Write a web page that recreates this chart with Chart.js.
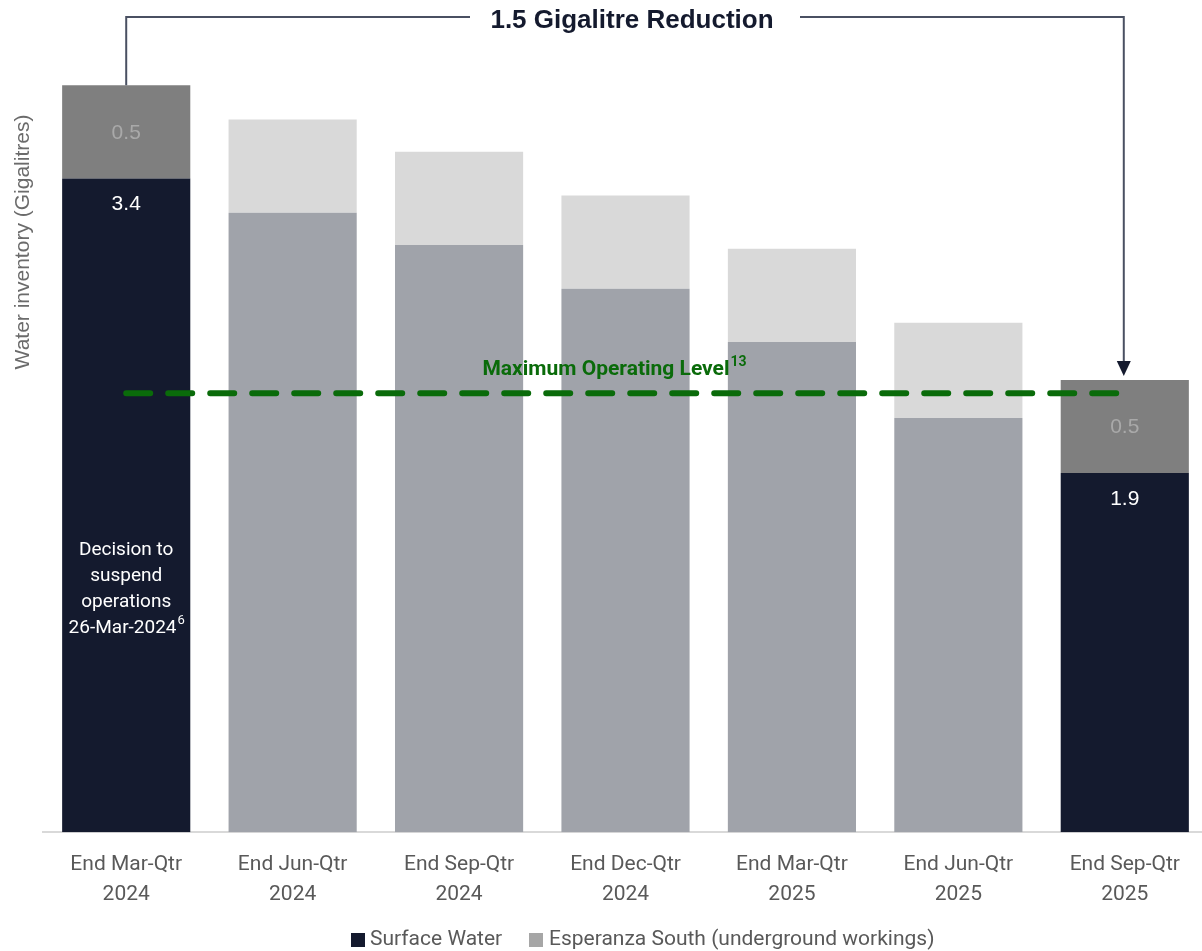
<!DOCTYPE html>
<html>
<head>
<meta charset="utf-8">
<script src="https://cdn.jsdelivr.net/npm/chart.js@4.4.1/dist/chart.umd.min.js"></script>
<style>
  html, body { margin: 0; padding: 0; background: #fff; overflow: hidden; }
  #wrap { width: 1208px; height: 951px; }
</style>
</head>
<body>
<div id="wrap"><canvas id="water"></canvas></div>
<script>
// data (Gigalitres)
const categories = [
  ['End Mar-Qtr', '2024'], ['End Jun-Qtr', '2024'], ['End Sep-Qtr', '2024'],
  ['End Dec-Qtr', '2024'], ['End Mar-Qtr', '2025'], ['End Jun-Qtr', '2025'],
  ['End Sep-Qtr', '2025']
];
const surfaceWater = [3.44, 3.26, 3.09, 2.86, 2.58, 2.18, 1.89];
const esperanzaSouth = [0.49, 0.49, 0.49, 0.49, 0.49, 0.50, 0.49];
const maxOperatingLevel = [2.31, 2.31, 2.31, 2.31, 2.31, 2.31, 2.31];
const labelledBars = [0, 6];

const NAVY = '#141a2e';
const DARK_GREY = '#7f7f7f';
const MID_GREY = '#a0a3aa';
const LIGHT_GREY = '#d9d9d9';
const GREEN = '#0a6b0a';

const surfaceColors = categories.map((c, i) => labelledBars.includes(i) ? NAVY : MID_GREY);
const esperanzaColors = categories.map((c, i) => labelledBars.includes(i) ? DARK_GREY : LIGHT_GREY);

// labels, bracket, legend and axis title
const annotations = {
  id: 'annotations',
  afterDatasetsDraw(chart) {
    const ctx = chart.ctx;
    const y = chart.scales.y;
    const surfMeta = chart.getDatasetMeta(0);
    const espMeta = chart.getDatasetMeta(1);

    ctx.save();
    ctx.textAlign = 'center';
    ctx.textBaseline = 'middle';

    // value labels in first and last bar
    labelledBars.forEach(i => {
      const sBar = surfMeta.data[i];
      const eBar = espMeta.data[i];
      ctx.font = '21px "Liberation Sans", Arial, sans-serif';
      ctx.fillStyle = '#a9a9a9';
      ctx.fillText(esperanzaSouth[i].toFixed(1), eBar.x, (eBar.y + eBar.base) / 2 + 1);
      ctx.fillStyle = '#ffffff';
      ctx.fillText(surfaceWater[i].toFixed(1), sBar.x, sBar.y + 26);
    });

    // note inside first bar
    const b0 = surfMeta.data[0];
    ctx.font = '19px Roboto, sans-serif';
    ctx.fillStyle = '#ffffff';
    ['Decision to', 'suspend', 'operations'].forEach((t, k) => {
      ctx.fillText(t, b0.x, 550 + k * 26);
    });
    const last = '26-Mar-2024';
    const lw = ctx.measureText(last).width;
    ctx.font = '13px Roboto, sans-serif';
    const sw = ctx.measureText('6').width;
    ctx.font = '19px Roboto, sans-serif';
    ctx.textAlign = 'left';
    ctx.fillText(last, b0.x - (lw + sw) / 2, 628);
    ctx.font = '13px Roboto, sans-serif';
    ctx.fillText('6', b0.x - (lw + sw) / 2 + lw + 1, 621);

    // maximum operating level label
    const molY = y.getPixelForValue(maxOperatingLevel[0]);
    ctx.font = 'bold 21px Roboto, sans-serif';
    ctx.fillStyle = GREEN;
    const mText = 'Maximum Operating Level';
    const mw = ctx.measureText(mText).width;
    ctx.font = 'bold 14px Roboto, sans-serif';
    const supW = ctx.measureText('13').width;
    const mStart = 614 - (mw + supW) / 2;
    ctx.font = 'bold 21px Roboto, sans-serif';
    ctx.fillText(mText, mStart, molY - 23);
    ctx.font = 'bold 14px Roboto, sans-serif';
    ctx.fillText('13', mStart + mw + 1, molY - 31);

    // reduction bracket
    const e0 = espMeta.data[0];
    const e6 = espMeta.data[6];
    const topY = 17;
    ctx.strokeStyle = '#4a5062';
    ctx.lineWidth = 2;
    ctx.beginPath();
    ctx.moveTo(e0.x, e0.y);
    ctx.lineTo(e0.x, topY);
    ctx.lineTo(470, topY);
    ctx.moveTo(800, topY);
    ctx.lineTo(e6.x - 1, topY);
    ctx.lineTo(e6.x - 1, e6.y - 18);
    ctx.stroke();
    ctx.fillStyle = NAVY;
    ctx.beginPath();
    ctx.moveTo(e6.x - 1, e6.y - 4);
    ctx.lineTo(e6.x - 8, e6.y - 19);
    ctx.lineTo(e6.x + 6, e6.y - 19);
    ctx.closePath();
    ctx.fill();

    ctx.textAlign = 'center';
    ctx.font = 'bold 26px "Liberation Sans", Arial, sans-serif';
    ctx.fillStyle = NAVY;
    ctx.fillText('1.5 Gigalitre Reduction', 632, 21);

    // y axis title
    ctx.save();
    ctx.translate(23, 242);
    ctx.rotate(-Math.PI / 2);
    ctx.font = '21px "Liberation Sans", Arial, sans-serif';
    ctx.fillStyle = '#6b6b6b';
    ctx.fillText('Water inventory (Gigalitres)', 0, 0);
    ctx.restore();

    // legend
    ctx.textAlign = 'left';
    ctx.font = '21px Roboto, sans-serif';
    ctx.fillStyle = NAVY;
    ctx.fillRect(351, 933, 14, 14);
    ctx.fillStyle = '#595959';
    ctx.fillText('Surface Water', 370, 940);
    ctx.fillStyle = '#a6a6a6';
    ctx.fillRect(529, 933, 14, 14);
    ctx.fillStyle = '#595959';
    ctx.fillText('Esperanza South (underground workings)', 549, 940);
    ctx.restore();
  }
};

const ctx = document.getElementById('water').getContext('2d');
new Chart(ctx, {
  data: {
    labels: categories,
    datasets: [
      {
        type: 'bar',
        label: 'Surface Water',
        data: surfaceWater,
        backgroundColor: surfaceColors,
        order: 1,
        stack: 'water'
      },
      {
        type: 'bar',
        label: 'Esperanza South (underground workings)',
        data: esperanzaSouth,
        backgroundColor: esperanzaColors,
        order: 1,
        stack: 'water'
      },
      {
        type: 'line',
        label: 'Maximum Operating Level',
        data: maxOperatingLevel,
        borderColor: GREEN,
        borderWidth: 6,
        borderDash: [24, 18],
        borderCapStyle: 'round',
        pointRadius: 0,
        fill: false,
        order: 0,
        stack: 'mol'
      }
    ]
  },
  options: {
    responsive: true,
    maintainAspectRatio: false,
    animation: false,
    layout: { padding: { left: 43, right: 0, top: 34, bottom: 24 } },
    datasets: { bar: { barPercentage: 0.77, categoryPercentage: 1 } },
    plugins: {
      legend: { display: false },
      tooltip: { enabled: false }
    },
    scales: {
      x: {
        stacked: true,
        grid: { display: false, drawTicks: false },
        border: { display: true, color: '#d9d9d9', width: 2 },
        ticks: {
          color: '#595959',
          font: { family: 'Roboto, sans-serif', size: 21, lineHeight: 1.4 },
          padding: 18,
          maxRotation: 0,
          autoSkip: false
        }
      },
      y: {
        display: false,
        stacked: true,
        min: 0,
        max: 4.2
      }
    }
  },
  plugins: [annotations]
});
</script>
</body>
</html>
